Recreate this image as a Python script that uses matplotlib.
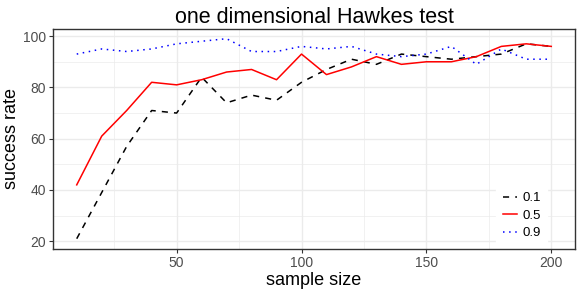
import matplotlib
matplotlib.use('Agg')
import matplotlib.pyplot as plt
from matplotlib.ticker import MultipleLocator

plt.rcParams['font.family'] = ['Liberation Sans', 'DejaVu Sans']

sample_size = [10, 20, 30, 40, 50, 60, 70, 80, 90, 100,
               110, 120, 130, 140, 150, 160, 170, 180, 190, 200]
rate_01 = [21, 39, 57, 71, 70, 84, 74, 77, 75, 82,
           87, 91, 89, 93, 92, 91, 92, 93, 97, 96]
rate_05 = [42, 61, 71, 82, 81, 83, 86, 87, 83, 93,
           85, 88, 92, 89, 90, 90, 92, 96, 97, 96]
rate_09 = [93, 95, 94, 95, 97, 98, 99, 94, 94, 96,
           95, 96, 93, 92, 93, 96, 89, 95, 91, 91]
labels = ['0.1', '0.5', '0.9']


def main():
    fig = plt.figure(figsize=(5.81, 2.91), dpi=100)
    ax = fig.add_axes([53 / 581, 1 - 248.7 / 291, 522 / 581, 220 / 291])

    ax.plot(sample_size, rate_01, color='black', ls=(0, (4, 4)), lw=1.1,
            label=labels[0])
    ax.plot(sample_size, rate_05, color='red', ls='-', lw=1.1,
            label=labels[1])
    ax.plot(sample_size, rate_09, color='blue', ls=(0, (1, 3)), lw=1.1,
            label=labels[2])

    # ggplot-like expansion of 5%
    xr = max(sample_size) - min(sample_size)
    ax.set_xlim(min(sample_size) - 0.05 * xr, max(sample_size) + 0.05 * xr)
    allv = rate_01 + rate_05 + rate_09
    yr = max(allv) - min(allv)
    ax.set_ylim(min(allv) - 0.05 * yr, max(allv) + 0.05 * yr)

    ax.xaxis.set_major_locator(MultipleLocator(50))
    ax.xaxis.set_minor_locator(MultipleLocator(25))
    ax.yaxis.set_major_locator(MultipleLocator(20))
    ax.yaxis.set_minor_locator(MultipleLocator(10))

    ax.grid(which='major', color='#ebebeb', lw=1.0)
    ax.grid(which='minor', color='#ebebeb', lw=0.5)
    ax.set_axisbelow(True)
    for s in ax.spines.values():
        s.set_color('#333333')
        s.set_linewidth(1.0)
    ax.tick_params(which='major', length=3, color='#333333',
                   labelsize=10, labelcolor='#4d4d4d', pad=2)
    ax.tick_params(which='minor', length=0)

    ax.set_xlabel('sample size', fontsize=13, labelpad=2)
    ax.set_ylabel('success rate', fontsize=13)
    ax.yaxis.set_label_coords(-0.064, 0.5)
    ax.set_title('one dimensional Hawkes test', fontsize=15.5, pad=4)

    leg = ax.legend(loc='center', bbox_to_anchor=(0.898, 0.15),
                    frameon=True, fancybox=False, fontsize=9.5,
                    handlelength=1.1, handletextpad=0.35, labelspacing=0.4,
                    borderpad=0.5)
    leg.get_frame().set_edgecolor('white')
    leg.get_frame().set_alpha(1)

    fig.savefig('out.png', dpi=100)


if __name__ == '__main__':
    main()
